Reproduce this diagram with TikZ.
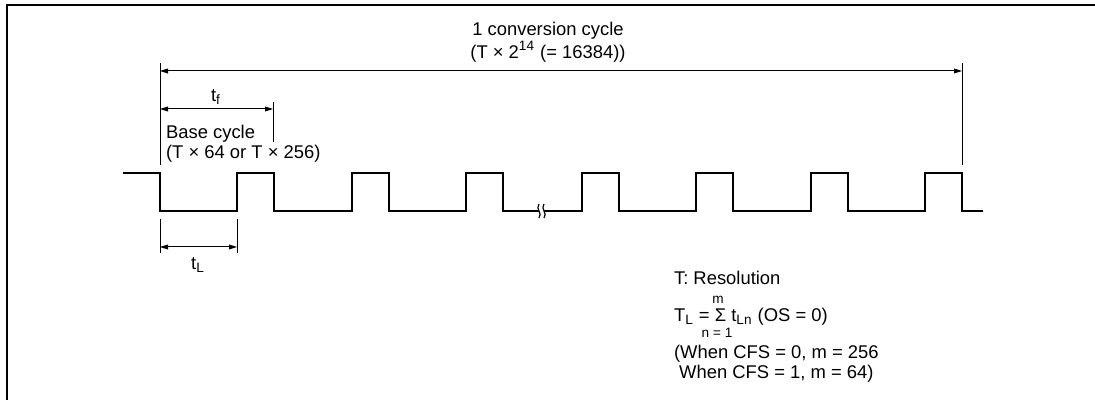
\documentclass[tikz,border=0pt]{standalone}
\usepackage{fontspec}
\setmainfont{Liberation Sans}
\DeclareMathSizes{9.2}{9.2}{6.8}{5}
\usetikzlibrary{arrows.meta}

\begin{document}
\begin{tikzpicture}[x=0.5pt,y=-0.5pt,>={Triangle[length=4pt,width=2.4pt]},font=\fontsize{9.2}{10}\selectfont]
\tikzstyle{wave}=[line width=1.2pt,line join=miter]
\tikzstyle{ext}=[line width=0.5pt]
\tikzstyle{dim}=[line width=0.5pt,<->]
\tikzstyle{sm}=[font=\fontsize{6.8}{7}\selectfont,inner sep=0pt]
\useasboundingbox (0,0) rectangle (1095,400);
\draw[line width=1pt] (7,400) |- (1095,5);
% signal, broken once between the third and fourth pulse
\draw[wave] (123,173) -| (160,211) \foreach \x in {237,352,466} {-| (\x,173) -| (\x+37,211)} -- (539,211);
\draw[wave] (544,211) \foreach \x in {582,696,811,925} {-| (\x,173) -| (\x+37,211)} -- (983,211);
\foreach \x in {539,544} \draw[line width=0.6pt] (\x,204) .. controls (\x-4,209) and (\x+4,213) .. (\x,218);
% extension lines
\coordinate (L1) at (160,63); \coordinate (L2) at (160,165);
\coordinate (R1) at (962,63); \coordinate (R2) at (962,165);
\coordinate (F1) at (273,102); \coordinate (F2) at (273,142);
\coordinate (B1) at (160,219); \coordinate (B2) at (160,253);
\coordinate (P1) at (237,219); \coordinate (P2) at (237,253);
\foreach \a/\b in {L1/L2,R1/R2,F1/F2,B1/B2,P1/P2} \draw[ext] (\a) -- (\b);
% dimensions
\coordinate (c0) at (160,71); \coordinate (c1) at (962,71);
\coordinate (f0) at (160,109); \coordinate (f1) at (273,109);
\coordinate (l0) at (160,247); \coordinate (l1) at (237,247);
\draw[dim] (c0) -- (c1);
\draw[dim] (f0) -- (f1);
\draw[dim] (l0) -- (l1);
\node[align=center] (cyc) at (548,42) {1 conversion cycle\\(T × 2\textsuperscript{14} (= 16384))};
\node (tf) at (216,97) {t\textsubscript{f}};
\node[anchor=west,align=left] (base) at (159,144) {Base cycle\\(T × 64 or T × 256)};
\node (tl) at (198,265) {t\textsubscript{L}};
% notes
\node[anchor=west] (res) at (667,278) {T: Resolution};
\node[anchor=west] (sum) at (667,317) {T\textsubscript{L} = Σ t\textsubscript{Ln} (OS = 0)};
\node[sm] (m) at (718,300) {m};
\node[sm] (n) at (717,333) {n = 1};
\node[anchor=west,align=left] (cfs) at (667,364) {(When CFS = 0, m = 256\\~When CFS = 1, m = 64)};
\end{tikzpicture}
\end{document}
